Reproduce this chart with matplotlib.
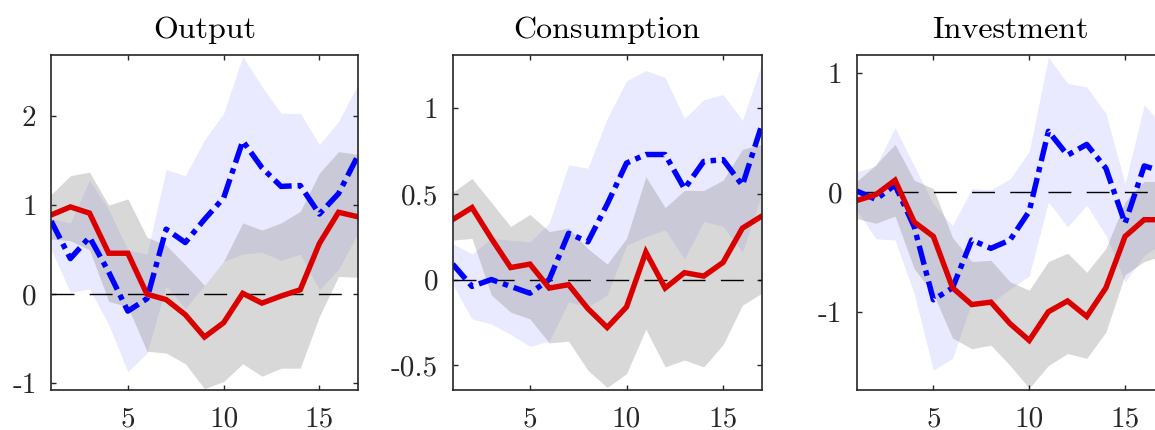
import matplotlib
matplotlib.use("Agg")
import matplotlib.pyplot as plt
import numpy as np

plt.rcParams['font.family'] = ['cmr10', 'DejaVu Serif']
plt.rcParams['axes.unicode_minus'] = False

horizon = list(range(1, 18))
titles = ["Output", "Consumption", "Investment"]

# Output
red_out = [0.89, 0.98, 0.91, 0.46, 0.46, 0.00, -0.06, -0.23, -0.48, -0.32, 0.01, -0.10, -0.02, 0.05, 0.57, 0.92, 0.87]
blue_out = [0.82, 0.40, 0.64, 0.25, -0.19, -0.05, 0.73, 0.58, 0.84, 1.08, 1.72, 1.42, 1.21, 1.22, 0.90, 1.13, 1.55]
blue_out_hi = [0.85, 0.80, 1.28, 0.95, 0.50, 0.45, 1.40, 1.33, 1.73, 2.03, 2.67, 2.33, 2.03, 2.03, 1.68, 1.94, 2.35]
blue_out_lo = [0.50, 0.02, 0.06, -0.34, -0.87, -0.66, 0.09, -0.16, 0.10, 0.37, 0.45, 0.47, 0.38, 0.45, 0.05, 0.28, 0.68]
gray_out_hi = [1.12, 1.33, 1.37, 1.00, 1.07, 0.64, 0.55, 0.33, 0.10, 0.37, 0.80, 0.72, 0.80, 0.93, 1.36, 1.60, 1.57]
gray_out_lo = [0.62, 0.60, 0.50, -0.08, -0.14, -0.64, -0.66, -0.78, -1.06, -0.98, -0.78, -0.92, -0.83, -0.83, -0.25, 0.20, 0.19]

# Consumption
red_con = [0.35, 0.42, 0.24, 0.07, 0.09, -0.05, -0.03, -0.17, -0.28, -0.16, 0.16, -0.05, 0.04, 0.02, 0.10, 0.30, 0.37]
blue_con = [0.09, -0.04, 0.00, -0.04, -0.08, 0.00, 0.27, 0.22, 0.44, 0.68, 0.73, 0.73, 0.53, 0.69, 0.70, 0.55, 0.90]
blue_con_hi = [0.21, 0.15, 0.24, 0.23, 0.22, 0.33, 0.67, 0.65, 0.94, 1.16, 1.22, 1.18, 0.94, 1.05, 1.08, 0.93, 1.26]
blue_con_lo = [-0.03, -0.23, -0.26, -0.32, -0.39, -0.36, -0.13, -0.16, -0.09, 0.20, 0.25, 0.29, 0.12, 0.34, 0.31, 0.16, 0.50]
gray_con_hi = [0.51, 0.59, 0.45, 0.31, 0.38, 0.28, 0.30, 0.18, 0.09, 0.24, 0.60, 0.42, 0.52, 0.52, 0.58, 0.76, 0.79]
gray_con_lo = [0.23, 0.24, -0.09, -0.19, -0.23, -0.37, -0.36, -0.53, -0.63, -0.55, -0.29, -0.51, -0.47, -0.51, -0.38, -0.15, -0.08]

# Investment
red_inv = [-0.07, -0.02, 0.10, -0.25, -0.37, -0.80, -0.94, -0.92, -1.10, -1.24, -1.00, -0.91, -1.04, -0.80, -0.37, -0.23, -0.23]
blue_inv = [0.01, -0.06, 0.06, -0.29, -0.90, -0.80, -0.40, -0.47, -0.40, -0.16, 0.51, 0.31, 0.40, 0.20, -0.26, 0.22, 0.17]
blue_inv_hi = [0.17, 0.22, 0.54, 0.22, -0.10, -0.28, 0.03, 0.02, 0.11, 0.34, 1.13, 0.91, 0.88, 0.66, 0.07, 0.73, 0.55]
blue_inv_lo = [-0.15, -0.39, -0.40, -0.85, -1.49, -1.39, -0.92, -0.93, -0.81, -0.70, -0.08, -0.29, -0.11, -0.36, -0.75, -0.53, -0.42]
gray_inv_hi = [0.09, 0.23, 0.40, 0.10, 0.03, -0.38, -0.58, -0.57, -0.75, -0.82, -0.58, -0.51, -0.67, -0.47, -0.08, 0.09, 0.09]
gray_inv_lo = [-0.22, -0.26, -0.20, -0.64, -0.85, -1.22, -1.31, -1.28, -1.45, -1.64, -1.45, -1.35, -1.39, -1.17, -0.69, -0.58, -0.53]

ytick_vals = [[-1, 0, 1, 2], [-0.5, 0, 0.5, 1], [-1, 0, 1]]
ytick_labels = [["-1", "0", "1", "2"], ["-0.5", "0", "0.5", "1"], ["-1", "0", "1"]]
xtick_vals = [5, 10, 15]
xtick_labels = ["5", "10", "15"]
ylims = [(-1.075, 2.685), (-0.645, 1.311), (-1.655, 1.148)]

panels = [
    (red_out, blue_out, blue_out_lo, blue_out_hi, gray_out_lo, gray_out_hi),
    (red_con, blue_con, blue_con_lo, blue_con_hi, gray_con_lo, gray_con_hi),
    (red_inv, blue_inv, blue_inv_lo, blue_inv_hi, gray_inv_lo, gray_inv_hi),
]

W, H = 1155, 430
fig = plt.figure(figsize=(W / 100, H / 100), dpi=100)
lefts_px = [51.2, 452.7, 856.7]
widths_px = [306.5, 309.0, 306.7]
top_px, bot_px = 55, 390

spine_col = '#262626'
for i, (red, blue, blo, bhi, glo, ghi) in enumerate(panels):
    ax = fig.add_axes([lefts_px[i] / W, 1 - bot_px / H, widths_px[i] / W, (bot_px - top_px) / H])
    ax.fill_between(horizon, blo, bhi, color=(0, 0, 1), alpha=0.085, linewidth=0)
    ax.fill_between(horizon, glo, ghi, color=(0.5, 0.5, 0.5), alpha=0.3, linewidth=0)
    ax.plot([1, 17], [0, 0], color='black', linewidth=1.0, dashes=(16.5, 11))
    ax.plot(horizon, blue, color=(0, 0, 1), linewidth=3.9, dashes=(3.6, 1.1, 1.0, 1.1))
    ax.plot(horizon, red, color=(0.86, 0, 0), linewidth=3.9, solid_joinstyle='miter')
    ax.set_xlim(1, 17)
    ax.set_ylim(*ylims[i])
    ax.set_xticks(xtick_vals)
    ax.set_xticklabels(xtick_labels)
    ax.set_yticks(ytick_vals[i])
    ax.set_yticklabels(ytick_labels[i])
    ax.tick_params(direction='in', length=3.5, width=1.0, colors=spine_col,
                   labelsize=21, top=True, right=True)
    ax.tick_params(axis='x', pad=11.5)
    ax.tick_params(axis='y', pad=10.5)
    for s in ax.spines.values():
        s.set_color(spine_col)
        s.set_linewidth(1.2)
    ax.set_title(titles[i], fontsize=23, pad=12, color='black')

fig.savefig("out.png", dpi=100)
